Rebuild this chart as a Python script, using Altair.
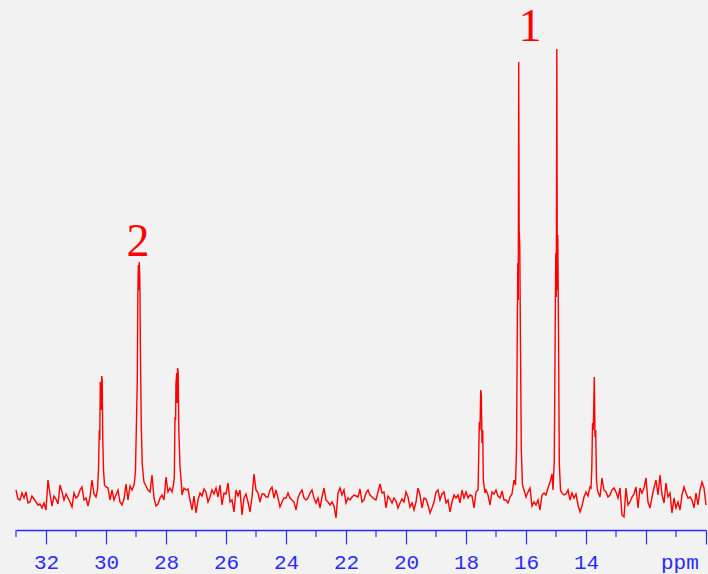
import altair as alt
import numpy as np
import pandas as pd

# ---- spectrum: baseline intensities on a 1/15 ppm grid from 33.0 ppm downwards ----
grid_start = 33.0
grid_step = 1.0 / 15.0
baseline = [
    40, 31, 30, 37, 32, 38, 27, 28, 34, 31,
    28, 25, 26, 22, 27, 20, 50, 36, 24, 34,
    31, 26, 45, 38, 30, 36, 32, 28, 23, 37,
    32, 34, 40, 43, 30, 32, 24, 33, 50, 36,
    33, 60, 140, 150, 50, 43, 42, 30, 40, 30,
    35, 40, 28, 25, 31, 46, 30, 44, 40, 45,
    100, 250, 250, 80, 48, 44, 40, 38, 55, 32,
    24, 26, 32, 35, 30, 53, 38, 42, 38, 50,
    150, 160, 60, 35, 42, 40, 41, 30, 20, 34,
    17, 30, 37, 34, 41, 38, 28, 33, 40, 36,
    42, 33, 45, 25, 37, 36, 47, 28, 30, 18,
    40, 34, 40, 15, 32, 36, 28, 18, 33, 56,
    40, 37, 28, 36, 36, 33, 33, 40, 43, 32,
    40, 32, 23, 28, 32, 32, 37, 32, 30, 28,
    20, 32, 37, 40, 32, 30, 32, 37, 40, 32,
    27, 32, 22, 33, 42, 30, 28, 25, 28, 24,
    12, 37, 42, 35, 40, 27, 32, 30, 33, 35,
    34, 33, 41, 28, 30, 37, 40, 35, 33, 31,
    30, 38, 46, 37, 38, 22, 34, 31, 27, 32,
    29, 22, 27, 31, 28, 38, 33, 23, 27, 20,
    28, 42, 35, 22, 32, 31, 25, 17, 22, 28,
    38, 40, 30, 36, 38, 27, 30, 18, 28, 35,
    32, 35, 27, 40, 32, 38, 32, 35, 34, 22,
    38, 40, 100, 90, 45, 40, 35, 25, 38, 36,
    40, 34, 32, 39, 30, 30, 27, 33, 36, 50,
    80, 300, 280, 45, 40, 33, 38, 42, 24, 28,
    25, 30, 20, 35, 37, 35, 42, 48, 56, 70,
    250, 200, 40, 37, 35, 36, 40, 30, 37, 32,
    36, 25, 18, 24, 33, 38, 34, 43, 100, 150,
    50, 38, 33, 52, 40, 38, 33, 35, 40, 42,
    38, 32, 42, 15, 13, 42, 25, 28, 33, 36,
    43, 22, 42, 37, 42, 52, 28, 22, 33, 42,
    50, 35, 55, 35, 27, 47, 33, 37, 17, 32,
    22, 28, 20, 35, 43, 37, 32, 33, 30, 22,
    37, 25, 40, 48, 42, 25,
]

# ---- peaks (ppm, intensity) ----
peak_a_ppm = [30.283, 30.25, 30.223, 30.207, 30.19, 30.173, 30.16, 30.143, 30.127, 30.107, 30.083, 30.05]
peak_a_int = [40, 60, 100, 90, 148, 146, 120, 154, 150, 90, 60, 45]

peak_b_ppm = [29.05, 29.017, 28.983, 28.957, 28.94, 28.923, 28.907, 28.89, 28.873, 28.85, 28.823, 28.79, 28.75]
peak_b_int = [48, 60, 110, 150, 230, 265, 240, 268, 250, 170, 103, 65, 52]

peak_c_ppm = [27.75, 27.723, 27.7, 27.68, 27.667, 27.643, 27.63, 27.613, 27.593, 27.573, 27.533, 27.483]
peak_c_int = [45, 53, 113, 110, 147, 157, 127, 162, 158, 100, 63, 45]

peak_d_ppm = [17.59, 17.557, 17.533, 17.51, 17.49, 17.467, 17.443, 17.423, 17.367]
peak_d_int = [50, 108, 100, 140, 135, 87, 100, 50, 37]

peak_e_ppm = [16.35, 16.317, 16.29, 16.273, 16.257, 16.243, 16.227, 16.207, 16.183, 16.157, 16.117]
peak_e_int = [45, 80, 200, 267, 230, 468, 300, 283, 180, 80, 45]

peak_f_ppm = [15.1, 15.057, 15.027, 15.007, 14.99, 14.973, 14.957, 14.94, 14.917, 14.89, 14.85]
peak_f_int = [40, 70, 200, 277, 233, 481, 240, 295, 200, 67, 40]

peak_g_ppm = [13.833, 13.807, 13.783, 13.757, 13.723, 13.7, 13.677, 13.65, 13.617]
peak_g_int = [42, 60, 107, 100, 153, 93, 100, 50, 40]

label_text = ["1", "2"]
label_ppm = [15.87, 28.93]
label_int = [489, 274]

major_ticks = [10, 12, 14, 16, 18, 20, 22, 24, 26, 28, 30, 32]
minor_ticks = [11, 13, 15, 17, 19, 21, 23, 25, 27, 29, 31, 33]
minor_tick_len = [7] * len(minor_ticks)

# ---- build the table ----
grid_ppm = grid_start - np.arange(len(baseline)) * grid_step
grid_int = np.array(baseline, dtype=float)
keep = np.ones(len(baseline), dtype=bool)
peaks = [
    (peak_a_ppm, peak_a_int), (peak_b_ppm, peak_b_int), (peak_c_ppm, peak_c_int),
    (peak_d_ppm, peak_d_int), (peak_e_ppm, peak_e_int), (peak_f_ppm, peak_f_int),
    (peak_g_ppm, peak_g_int),
]
xs = []
ys = []
for pp, pi in peaks:
    lo, hi = min(pp), max(pp)
    keep &= ~((grid_ppm >= lo) & (grid_ppm <= hi))
    xs.extend(pp)
    ys.extend(pi)
xs = list(grid_ppm[keep]) + xs
ys = list(grid_int[keep]) + ys
spec = pd.DataFrame({"ppm": xs, "intensity": ys}).sort_values("ppm", ascending=False)

labels = pd.DataFrame({"t": label_text, "ppm": label_ppm, "intensity": label_int})
unit = pd.DataFrame({"t": ["ppm"], "ppm": [10.87], "intensity": [-22]})
minor = pd.DataFrame({"ppm": minor_ticks, "top": [0] * len(minor_ticks),
                      "bottom": [-v for v in minor_tick_len]})

BLUE = "#2b2bff"
RED = "#ff0000"

xscale = alt.Scale(domain=[10, 33], reverse=True, nice=False, zero=False)
yscale = alt.Scale(domain=[0, 530], nice=False, zero=False)

line = alt.Chart(spec).mark_line(color=RED, strokeWidth=1.4).encode(
    x=alt.X("ppm:Q", scale=xscale, title=None,
            axis=alt.Axis(
                values=major_ticks,
                orient="bottom",
                domainColor=BLUE, domainWidth=1.5,
                tickColor=BLUE, tickWidth=1.2, tickSize=14,
                labelExpr="datum.value >= 14 ? datum.label : ''",
                labelColor=BLUE, labelFont="Liberation Mono", labelFontSize=21,
                labelPadding=7, labelFlush=False, labelOverlap=False,
                grid=False,
            )),
    y=alt.Y("intensity:Q", scale=yscale, axis=None),
    order=alt.Order("ppm:Q", sort="descending"),
)

minor_rules = alt.Chart(minor).mark_rule(color=BLUE, strokeWidth=1.2).encode(
    x=alt.X("ppm:Q", scale=xscale),
    y=alt.Y("top:Q", scale=yscale),
    y2="bottom:Q",
)

text = alt.Chart(labels).mark_text(
    color=RED, font="Liberation Serif", fontSize=46, baseline="alphabetic", align="center"
).encode(
    x=alt.X("ppm:Q", scale=xscale),
    y=alt.Y("intensity:Q", scale=yscale),
    text="t:N",
)

unit_text = alt.Chart(unit).mark_text(
    color=BLUE, font="Liberation Mono", fontSize=21, baseline="top", align="center"
).encode(
    x=alt.X("ppm:Q", scale=xscale),
    y=alt.Y("intensity:Q", scale=yscale),
    text="t:N",
)

chart = alt.layer(line, minor_rules, text, unit_text).properties(
    width=690, height=530,
    background="#f2f2f2",
    padding={"left": 16, "top": 0, "right": 2, "bottom": 44},
    autosize=alt.AutoSizeParams(type="none"),
).configure_view(strokeWidth=0)

chart.save("out.html", embed_options={"renderer": "svg", "actions": False})
